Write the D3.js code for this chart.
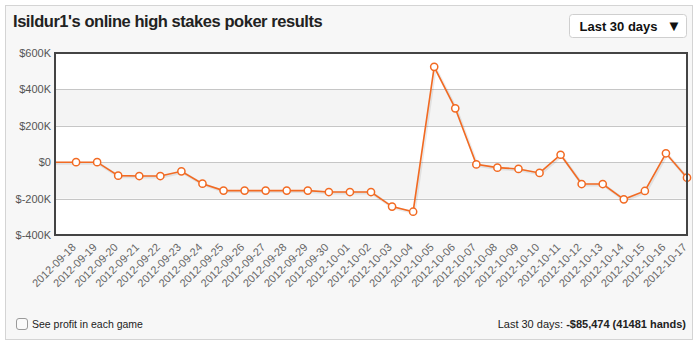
<!DOCTYPE html>
<html>
<head>
<meta charset="utf-8">
<script src="https://cdn.jsdelivr.net/npm/d3@7"></script>
<style>
  html, body { margin: 0; padding: 0; background: #fff; }
  svg { display: block; font-family: "Liberation Sans", Arial, sans-serif; }
</style>
</head>
<body>
<svg id="chart" width="700" height="348"></svg>
<script>
// data (profit in $K, cumulative)
const dates = ['2012-09-17', '2012-09-18', '2012-09-19', '2012-09-20', '2012-09-21', '2012-09-22',
    '2012-09-23', '2012-09-24', '2012-09-25', '2012-09-26', '2012-09-27', '2012-09-28',
    '2012-09-29', '2012-09-30', '2012-10-01', '2012-10-02', '2012-10-03', '2012-10-04',
    '2012-10-05', '2012-10-06', '2012-10-07', '2012-10-08', '2012-10-09', '2012-10-10',
    '2012-10-11', '2012-10-12', '2012-10-13', '2012-10-14', '2012-10-15', '2012-10-16',
    '2012-10-17'];
const profit = [0, 0, 0, -74, -76, -76, -50, -118, -156, -156, -156, -156, -156, -164, -164,
    -164, -244, -272, 524, 296, -12, -30, -37, -59, 41, -120, -120, -204, -158, 49, -85];
const yTicks = [-400, -200, 0, 200, 400, 600];

const svg = d3.select('#chart');
const margin = { top: 53, right: 13, bottom: 113, left: 55 };
const width = 700;
const height = 348;

// outer panel
svg.append('rect')
    .attr('x', 5.5).attr('y', 5.5)
    .attr('width', 687).attr('height', 334)
    .attr('fill', '#f7f7f7')
    .attr('stroke', '#d4d4d4');

svg.append('text')
    .attr('x', 13).attr('y', 27)
    .attr('font-size', 16.5).attr('font-weight', 'bold')
    .attr('letter-spacing', -0.45)
    .attr('fill', '#222')
    .text("Isildur1's online high stakes poker results");

// dropdown
const dd = svg.append('g').attr('transform', 'translate(569.5,14.5)');
dd.append('rect')
    .attr('width', 117).attr('height', 23).attr('rx', 3)
    .attr('fill', '#fff').attr('stroke', '#cfcfcf');
dd.append('text')
    .attr('x', 10).attr('y', 16)
    .attr('font-size', 13).attr('font-weight', 'bold').attr('fill', '#111')
    .text('Last 30 days');
dd.append('text')
    .attr('x', 97).attr('y', 16.5)
    .attr('font-size', 15).attr('fill', '#111')
    .text('\u25BC');

const x = d3.scalePoint()
    .domain(dates)
    .range([margin.left, width - margin.right]);
const y = d3.scaleLinear()
    .domain([-400, 600])
    .range([height - margin.bottom, margin.top]);

// plot background + bands
svg.append('rect')
    .attr('x', margin.left).attr('y', margin.top)
    .attr('width', width - margin.right - margin.left)
    .attr('height', y(-400) - y(600))
    .attr('fill', '#fff');

svg.append('g')
    .selectAll('rect')
    .data([[200, 400], [-200, 0]])
    .join('rect')
    .attr('x', margin.left)
    .attr('y', (d) => y(d[1]))
    .attr('width', width - margin.right - margin.left)
    .attr('height', (d) => y(d[0]) - y(d[1]))
    .attr('fill', '#f4f4f4');

// grid lines
svg.append('g')
    .selectAll('line')
    .data(yTicks)
    .join('line')
    .attr('x1', margin.left).attr('x2', width - margin.right)
    .attr('y1', (d) => Math.round(y(d)) + 0.5)
    .attr('y2', (d) => Math.round(y(d)) + 0.5)
    .attr('stroke', '#c6c6c6');

// y axis labels
const yAxis = d3.axisLeft(y)
    .tickValues(yTicks)
    .tickSize(0)
    .tickPadding(4)
    .tickFormat((d) => d === 0 ? '$0' : `$${d}K`);
svg.append('g')
    .attr('transform', `translate(${margin.left},0)`)
    .call(yAxis)
    .call((g) => g.select('.domain').remove())
    .call((g) => g.selectAll('text')
        .attr('font-size', 11)
        .attr('font-family', '"Liberation Sans", Arial, sans-serif')
        .attr('fill', '#555'));

// x axis labels (rotated)
const xAxis = d3.axisBottom(x)
    .tickValues(dates.slice(1))
    .tickSize(0)
    .tickPadding(0);
svg.append('g')
    .attr('transform', `translate(0,${height - margin.bottom})`)
    .call(xAxis)
    .call((g) => g.select('.domain').remove())
    .call((g) => g.selectAll('text')
        .attr('font-size', 11)
        .attr('font-family', '"Liberation Sans", Arial, sans-serif')
        .attr('fill', '#666')
        .attr('text-anchor', 'end')
        .attr('dy', null)
        .attr('y', 0)
        .attr('transform', 'translate(0,13) rotate(-45)'));

const line = d3.line()
    .x((d, i) => x(dates[i]))
    .y((d) => y(d));

// faint shadow under the line
svg.append('path')
    .datum(profit)
    .attr('d', line)
    .attr('transform', 'translate(1,1)')
    .attr('fill', 'none')
    .attr('stroke', '#000')
    .attr('stroke-opacity', 0.08)
    .attr('stroke-width', 3);

svg.append('path')
    .datum(profit)
    .attr('d', line)
    .attr('fill', 'none')
    .attr('stroke', '#f26a22')
    .attr('stroke-width', 1.6);

svg.append('g')
    .selectAll('circle')
    .data(profit.slice(1))
    .join('circle')
    .attr('cx', (d, i) => x(dates[i + 1]))
    .attr('cy', (d) => y(d))
    .attr('r', 3.6)
    .attr('fill', '#fff')
    .attr('stroke', '#f26a22')
    .attr('stroke-width', 1.5);

// plot frame
svg.append('rect')
    .attr('x', margin.left).attr('y', margin.top)
    .attr('width', width - margin.right - margin.left)
    .attr('height', y(-400) - y(600))
    .attr('fill', 'none')
    .attr('stroke', '#444')
    .attr('stroke-width', 2);

// footer
svg.append('rect')
    .attr('x', 16.5).attr('y', 318.5)
    .attr('width', 11).attr('height', 11).attr('rx', 2.5)
    .attr('fill', '#fafafa').attr('stroke', '#9a9a9a');
svg.append('text')
    .attr('x', 32).attr('y', 327.5)
    .attr('font-size', 10.5).attr('fill', '#222')
    .text('See profit in each game');

const summary = svg.append('text')
    .attr('x', 686).attr('y', 327.5)
    .attr('text-anchor', 'end')
    .attr('font-size', 11).attr('fill', '#222');
summary.append('tspan').text('Last 30 days: ');
summary.append('tspan').attr('font-weight', 'bold').text('-$85,474 (41481 hands)');
</script>
</body>
</html>
